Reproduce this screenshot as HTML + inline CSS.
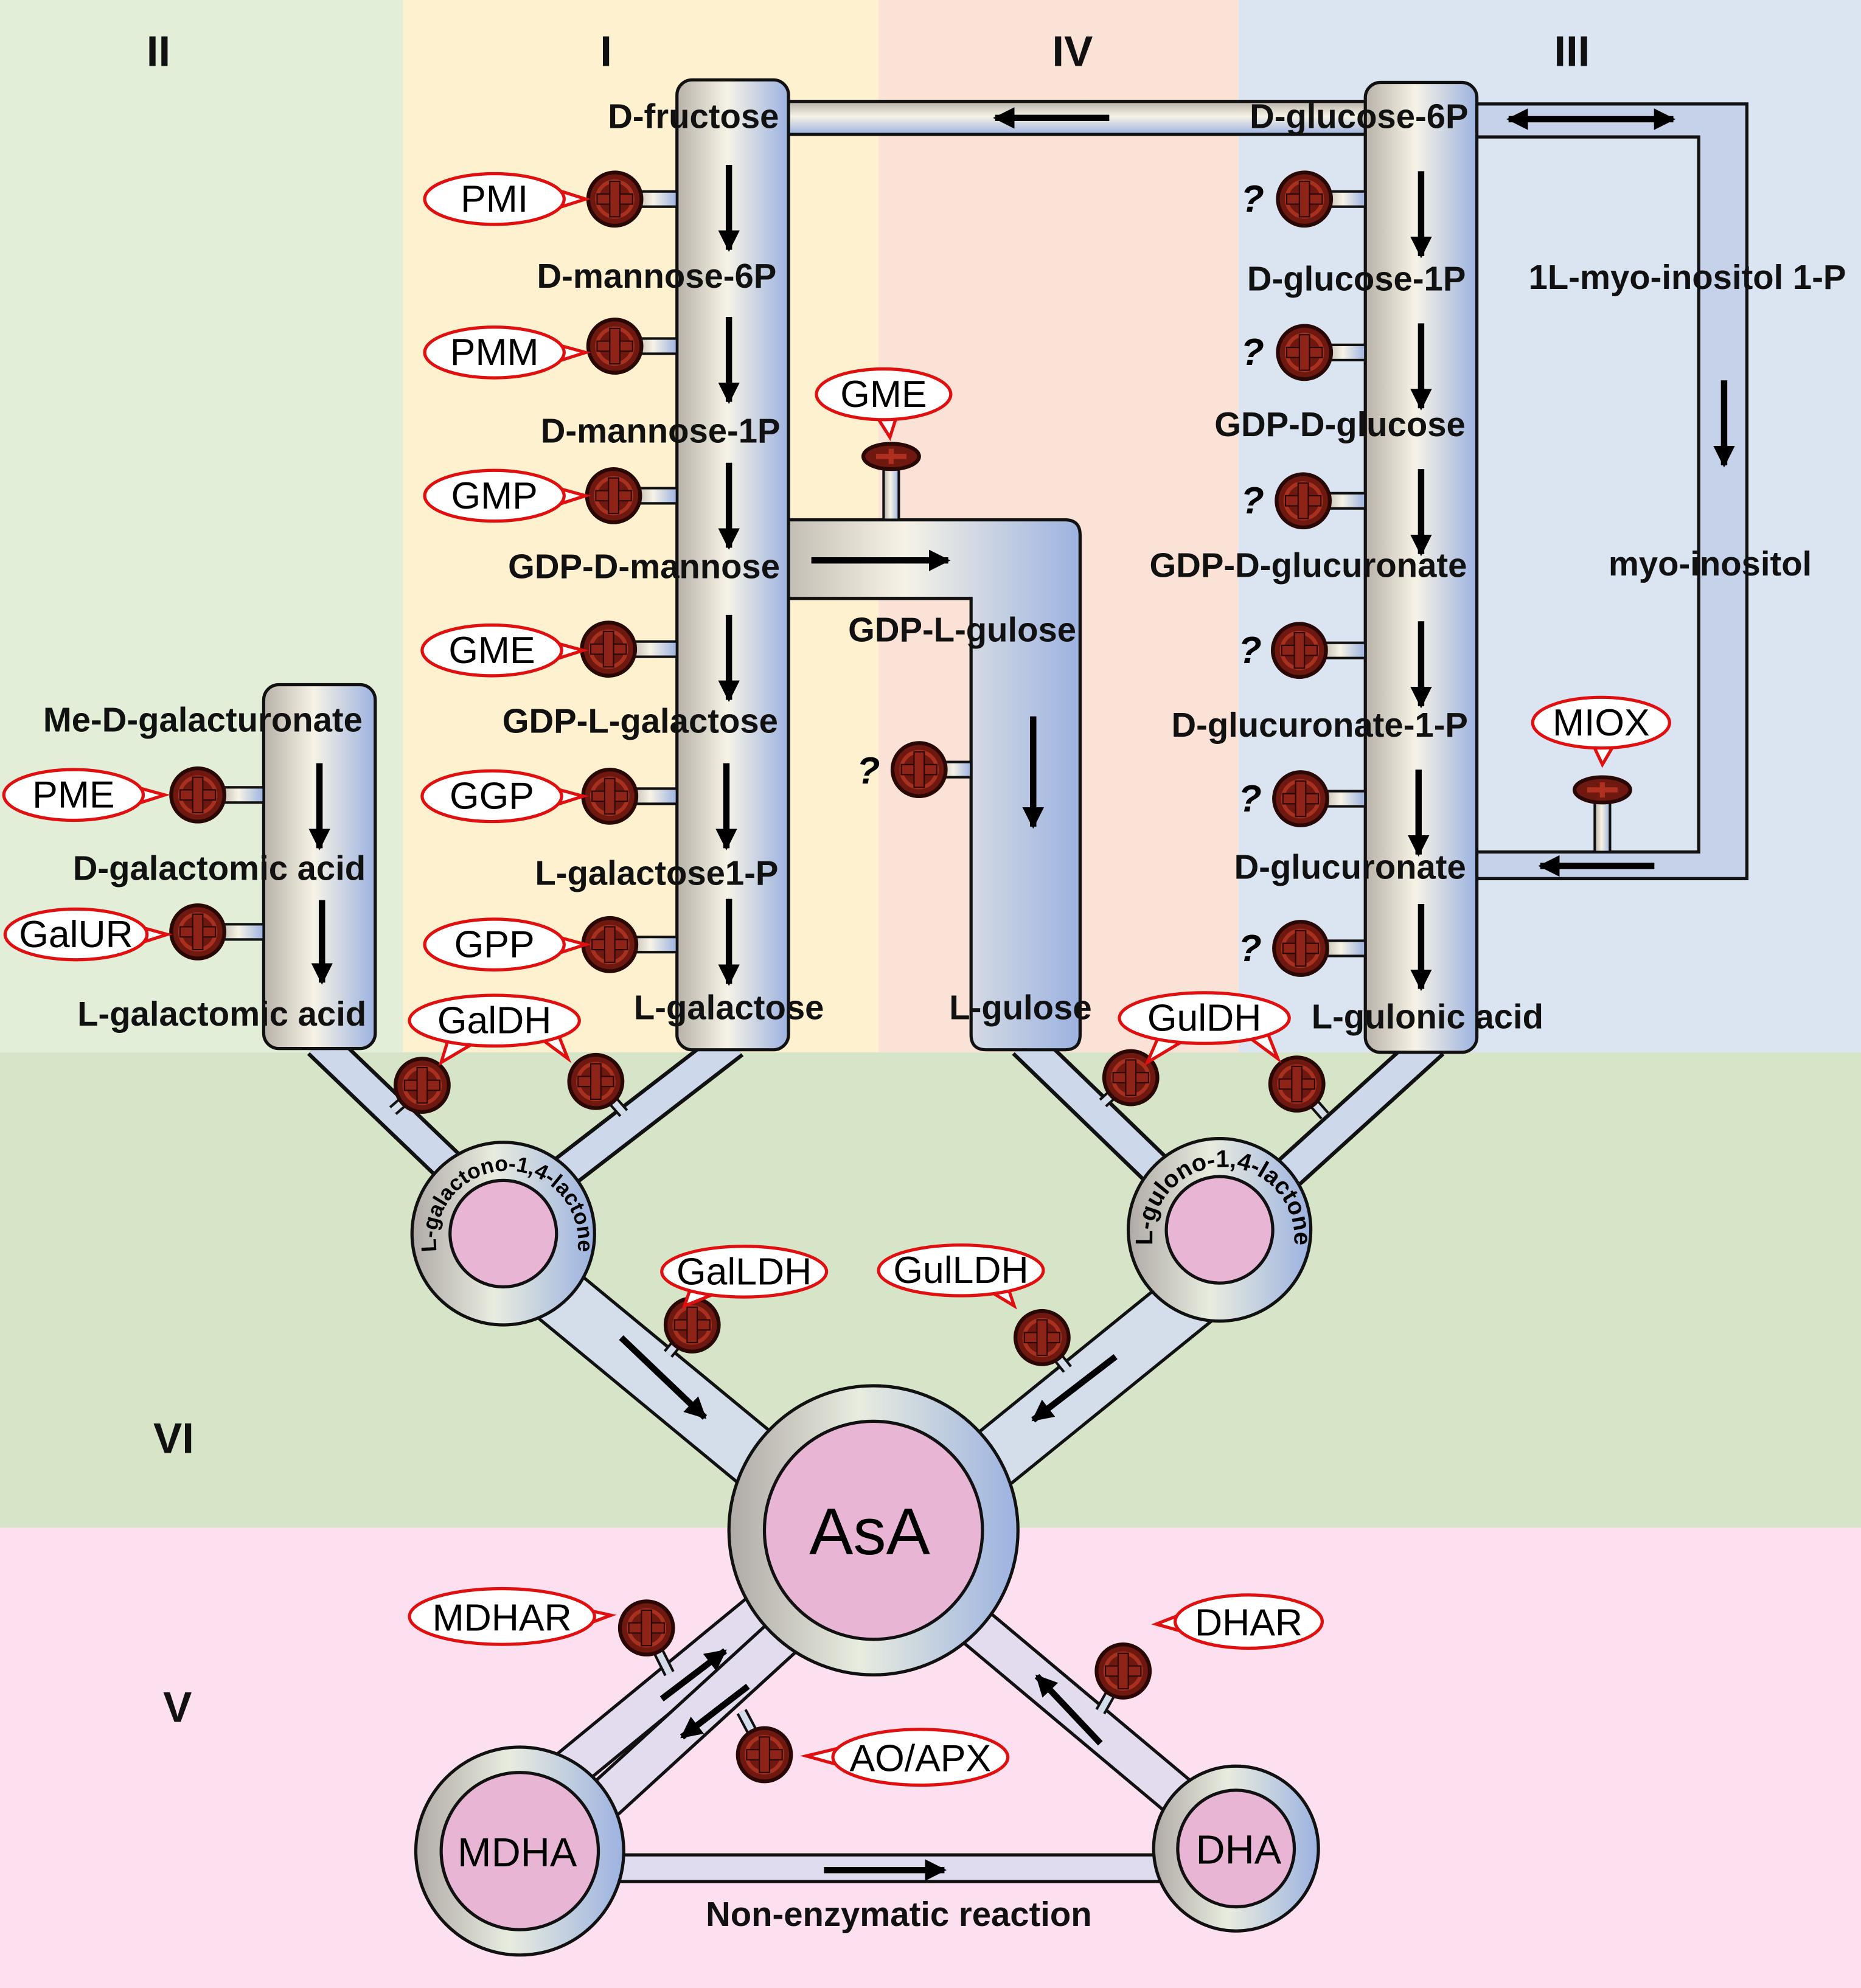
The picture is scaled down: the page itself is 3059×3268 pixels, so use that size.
<!DOCTYPE html>
<html><head><meta charset="utf-8"><style>
html,body{margin:0;padding:0;background:#fff}
svg{display:block}
text{font-family:"Liberation Sans",sans-serif}
.b{font-weight:bold;font-size:27px;text-anchor:middle;fill:#111}
.s{font-weight:bold;font-size:34px;text-anchor:middle;fill:#111}
.c{font-size:30px;text-anchor:middle;fill:#000}
.q{font-weight:bold;font-style:italic;font-size:30px;text-anchor:middle}
.pipe{fill:url(#tg);stroke:#111;stroke-width:2.5}
</style></head><body>
<svg width="3059" height="3268" viewBox="0 0 1468 1568" preserveAspectRatio="none" xmlns="http://www.w3.org/2000/svg">
<defs>
<linearGradient id="tg" x1="0" y1="0" x2="1" y2="0">
<stop offset="0" stop-color="#b8b2a8"/><stop offset="0.45" stop-color="#f6f3e6"/><stop offset="1" stop-color="#9cb2e0"/></linearGradient>
<linearGradient id="tgv" x1="0" y1="0" x2="0" y2="1">
<stop offset="0" stop-color="#b8b2a8"/><stop offset="0.45" stop-color="#f6f3e6"/><stop offset="1" stop-color="#9cb2e0"/></linearGradient>
<linearGradient id="rg" x1="0" y1="0" x2="1" y2="0">
<stop offset="0" stop-color="#b0aaa6"/><stop offset="0.45" stop-color="#e8ecdf"/><stop offset="1" stop-color="#9cb2e0"/></linearGradient>
<marker id="ah" viewBox="0 0 10 10" refX="9" refY="5" markerWidth="3.4" markerHeight="3.4" orient="auto-start-reverse"><path d="M0,0L10,5L0,10z" fill="#000"/></marker>
<g id="v"><circle r="21" fill="#6e1810" stroke="#2a0805" stroke-width="3"/><circle r="14" fill="none" stroke="#a8301e" stroke-width="3"/><rect x="-14" y="-4" width="28" height="8" fill="#8e2418" stroke="#2a0805" stroke-width="1"/><rect x="-4" y="-14" width="8" height="28" fill="#8e2418" stroke="#2a0805" stroke-width="1"/></g>
<g id="vt"><ellipse rx="22" ry="10" fill="#6e1810" stroke="#2a0805" stroke-width="3"/><path d="M-12,0H12M0,-6V6" stroke="#b03020" stroke-width="4"/></g>
</defs>
<rect x="0" y="0" width="318" height="830" fill="#e3eed9"/>
<rect x="318" y="0" width="375" height="830" fill="#fdf1cf"/>
<rect x="693" y="0" width="284" height="830" fill="#fae3d6"/>
<rect x="977" y="0" width="491" height="830" fill="#dbe4f1"/>
<rect x="0" y="830" width="1468" height="375" fill="#d6e5c8"/>
<rect x="0" y="1205" width="1468" height="363" fill="#fde0f0"/>
<text class="s" x="125" y="52">II</text><text class="s" x="478" y="52">I</text><text class="s" x="846" y="52">IV</text><text class="s" x="1240" y="52">III</text>
<text class="s" x="137" y="1146">VI</text><text class="s" x="140" y="1358">V</text>
<g stroke-linecap="butt">
<line x1="252" y1="822" x2="375" y2="940" stroke="#111" stroke-width="28"/><line x1="252" y1="822" x2="375" y2="940" stroke="#cdd8ea" stroke-width="22"/>
<line x1="578" y1="822" x2="425" y2="940" stroke="#111" stroke-width="28"/><line x1="578" y1="822" x2="425" y2="940" stroke="#cdd8ea" stroke-width="22"/>
<line x1="808" y1="822" x2="930" y2="940" stroke="#111" stroke-width="28"/><line x1="808" y1="822" x2="930" y2="940" stroke="#cdd8ea" stroke-width="22"/>
<line x1="1130" y1="822" x2="1000" y2="940" stroke="#111" stroke-width="28"/><line x1="1130" y1="822" x2="1000" y2="940" stroke="#cdd8ea" stroke-width="22"/>
<line x1="420" y1="1005" x2="620" y2="1170" stroke="#111" stroke-width="50"/><line x1="420" y1="1005" x2="620" y2="1170" stroke="#d4ddea" stroke-width="45"/>
<line x1="945" y1="1020" x2="760" y2="1170" stroke="#111" stroke-width="50"/><line x1="945" y1="1020" x2="760" y2="1170" stroke="#d4ddea" stroke-width="45"/>
<line x1="612" y1="1262" x2="432" y2="1410" stroke="#111" stroke-width="34"/><line x1="612" y1="1262" x2="432" y2="1410" stroke="#e3dcee" stroke-width="29"/>
<line x1="635" y1="1275" x2="460" y2="1435" stroke="#111" stroke-width="34"/><line x1="635" y1="1275" x2="460" y2="1435" stroke="#e3dcee" stroke-width="29"/>
<line x1="760" y1="1275" x2="945" y2="1430" stroke="#111" stroke-width="34"/><line x1="760" y1="1275" x2="945" y2="1430" stroke="#e3dcee" stroke-width="29"/>
<rect x="480" y="1463" width="450" height="21" fill="#dfdcef" stroke="#111" stroke-width="2.5"/>
</g>
<g stroke="#111" stroke-width="9"><line x1="333" y1="856" x2="310" y2="876"/><line x1="470" y1="853" x2="492" y2="878"/><line x1="892" y1="850" x2="870" y2="870"/><line x1="1023" y1="855" x2="1045" y2="880"/>
<line x1="546" y1="1045" x2="527" y2="1068"/><line x1="822" y1="1055" x2="842" y2="1080"/><line x1="510" y1="1284" x2="528" y2="1320"/><line x1="603" y1="1384" x2="585" y2="1350"/><line x1="886" y1="1318" x2="868" y2="1350"/></g>
<g stroke="#d4ddea" stroke-width="5"><line x1="333" y1="856" x2="310" y2="876"/><line x1="470" y1="853" x2="492" y2="878"/><line x1="892" y1="850" x2="870" y2="870"/><line x1="1023" y1="855" x2="1045" y2="880"/>
<line x1="546" y1="1045" x2="527" y2="1068"/><line x1="822" y1="1055" x2="842" y2="1080"/><line x1="510" y1="1284" x2="528" y2="1320"/><line x1="603" y1="1384" x2="585" y2="1350"/><line x1="886" y1="1318" x2="868" y2="1350"/></g>
<rect class="pipe" x="600" y="80" width="500" height="26" style="fill:url(#tgv)"/>
<path class="pipe" d="M1150,82H1378V693H1150V672H1340V108H1150Z" style="fill:#c6d2ea"/>
<path class="pipe" d="M600,410H840Q852,410 852,422V816Q852,828 840,828H778Q766,828 766,816V472H600Z"/>
<rect class="pipe" x="534" y="63" width="88" height="765" rx="12"/>
<rect class="pipe" x="1077" y="65" width="88" height="765" rx="12"/>
<rect class="pipe" x="208" y="540" width="88" height="287" rx="12"/>
<g fill="url(#tg)" stroke="#111" stroke-width="2">
<rect x="500" y="151" width="34" height="12"/><rect x="500" y="267" width="34" height="12"/><rect x="500" y="385" width="34" height="12"/><rect x="496" y="506" width="38" height="12"/><rect x="496" y="622" width="38" height="12"/><rect x="496" y="739" width="38" height="12"/>
<rect x="1045" y="151" width="32" height="12"/><rect x="1045" y="272" width="32" height="12"/><rect x="1044" y="389" width="33" height="12"/><rect x="1041" y="507" width="36" height="12"/><rect x="1042" y="624" width="35" height="12"/><rect x="1042" y="742" width="35" height="12"/>
<rect x="172" y="621" width="36" height="12"/><rect x="172" y="729" width="36" height="12"/><rect x="740" y="601" width="26" height="12"/>
<rect x="697" y="365" width="12" height="45"/><rect x="1258" y="628" width="12" height="44"/>
</g>
<use href="#v" x="485" y="157"/><use href="#v" x="485" y="273"/><use href="#v" x="484" y="391"/><use href="#v" x="480" y="512"/><use href="#v" x="481" y="628"/><use href="#v" x="481" y="745"/>
<use href="#v" x="1029" y="157"/><use href="#v" x="1029" y="278"/><use href="#v" x="1028" y="395"/><use href="#v" x="1025" y="513"/><use href="#v" x="1026" y="630"/><use href="#v" x="1026" y="748"/>
<use href="#v" x="156" y="627"/><use href="#v" x="156" y="735"/><use href="#v" x="725" y="607"/>
<use href="#vt" x="703" y="360"/><use href="#vt" x="1264" y="623"/>
<use href="#v" x="333" y="856"/><use href="#v" x="470" y="853"/><use href="#v" x="892" y="850"/><use href="#v" x="1023" y="855"/>
<use href="#v" x="546" y="1045"/><use href="#v" x="822" y="1055"/><use href="#v" x="510" y="1284"/><use href="#v" x="603" y="1384"/><use href="#v" x="886" y="1318"/>
<g class="q"><text x="988" y="167">?</text><text x="988" y="288">?</text><text x="988" y="405">?</text><text x="986" y="523">?</text><text x="986" y="640">?</text><text x="986" y="758">?</text><text x="685" y="618">?</text></g>
<g stroke="#000" stroke-width="5" marker-end="url(#ah)">
<line x1="575" y1="130" x2="575" y2="197"/><line x1="575" y1="250" x2="575" y2="317"/><line x1="575" y1="365" x2="575" y2="432"/><line x1="575" y1="485" x2="575" y2="552"/><line x1="573" y1="602" x2="573" y2="669"/><line x1="575" y1="709" x2="575" y2="776"/>
<line x1="1121" y1="135" x2="1121" y2="202"/><line x1="1121" y1="255" x2="1121" y2="322"/><line x1="1121" y1="370" x2="1121" y2="437"/><line x1="1121" y1="490" x2="1121" y2="557"/><line x1="1119" y1="607" x2="1119" y2="674"/><line x1="1121" y1="713" x2="1121" y2="780"/>
<line x1="252" y1="602" x2="252" y2="669"/><line x1="254" y1="710" x2="254" y2="775"/>
<line x1="875" y1="93" x2="785" y2="93"/><line x1="640" y1="442" x2="748" y2="442"/><line x1="815" y1="565" x2="815" y2="652"/>
<line x1="1360" y1="300" x2="1360" y2="367"/><line x1="1305" y1="683" x2="1215" y2="683"/>
<line x1="490" y1="1055" x2="556" y2="1118"/><line x1="880" y1="1070" x2="815" y2="1120"/>
<line x1="522" y1="1340" x2="572" y2="1302"/><line x1="590" y1="1330" x2="538" y2="1370"/><line x1="868" y1="1375" x2="818" y2="1322"/><line x1="650" y1="1475" x2="745" y2="1475"/>
</g>
<line x1="1190" y1="94" x2="1320" y2="94" stroke="#000" stroke-width="5" marker-end="url(#ah)" marker-start="url(#ah)"/>
<circle cx="397" cy="973" r="72" fill="url(#rg)" stroke="#111" stroke-width="2.5"/><circle cx="397" cy="973" r="42" fill="#e8b5d5" stroke="#111" stroke-width="2.5"/>
<circle cx="962" cy="970" r="72" fill="url(#rg)" stroke="#111" stroke-width="2.5"/><circle cx="962" cy="970" r="42" fill="#e8b5d5" stroke="#111" stroke-width="2.5"/>
<circle cx="689" cy="1207" r="114" fill="url(#rg)" stroke="#111" stroke-width="2.5"/><circle cx="689" cy="1207" r="86" fill="#e8b5d5" stroke="#111" stroke-width="2.5"/>
<circle cx="410" cy="1460" r="82" fill="url(#rg)" stroke="#111" stroke-width="2.5"/><circle cx="410" cy="1460" r="62" fill="#e8b5d5" stroke="#111" stroke-width="2.5"/>
<circle cx="975" cy="1458" r="65" fill="url(#rg)" stroke="#111" stroke-width="2.5"/><circle cx="975" cy="1458" r="46" fill="#e8b5d5" stroke="#111" stroke-width="2.5"/>
<path id="arc1" d="M345,990A56,56 0 1,1 455,990" fill="none"/>
<path id="arc2" d="M910,987A56,56 0 1,1 1020,987" fill="none"/>
<text style="font-weight:bold;font-size:17px"><textPath href="#arc1" startOffset="50%" text-anchor="middle">L-galactono-1,4-lactone</textPath></text>
<text style="font-weight:bold;font-size:19px"><textPath href="#arc2" startOffset="50%" text-anchor="middle">L-gulono-1,4-lactone</textPath></text>
<text x="686" y="1226" style="font-size:52px;text-anchor:middle">AsA</text>
<text x="408" y="1472" style="font-size:32px;text-anchor:middle">MDHA</text>
<text x="977" y="1470" style="font-size:32px;text-anchor:middle">DHA</text>
<g class="b">
<text x="547" y="101">D-fructose</text><text x="518" y="227">D-mannose-6P</text><text x="521" y="349">D-mannose-1P</text><text x="508" y="456">GDP-D-mannose</text><text x="505" y="578">GDP-L-galactose</text><text x="518" y="698">L-galactose1-P</text><text x="575" y="804">L-galactose</text>
<text x="1072" y="101">D-glucose-6P</text><text x="1070" y="229">D-glucose-1P</text><text x="1057" y="344">GDP-D-glucose</text><text x="1032" y="455">GDP-D-glucuronate</text><text x="1041" y="581">D-glucuronate-1-P</text><text x="1065" y="693">D-glucuronate</text><text x="1126" y="811">L-gulonic acid</text>
<text x="1331" y="228">1L-myo-inositol 1-P</text><text x="1349" y="454">myo-inositol</text><text x="759" y="506">GDP-L-gulose</text><text x="805" y="804">L-gulose</text>
<text x="160" y="577">Me-D-galacturonate</text><text x="173" y="694">D-galactomic acid</text><text x="175" y="809">L-galactomic acid</text>
<text x="709" y="1519">Non-enzymatic reaction</text>
</g>
<g fill="#fff" stroke="#e01010" stroke-width="2.5">
<path d="M440,150L462,157L440,164Z"/><ellipse cx="390" cy="157" rx="55" ry="20"/>
<path d="M440,272L462,278L440,285Z"/><ellipse cx="390" cy="278" rx="55" ry="20"/>
<path d="M440,385L462,391L440,398Z"/><ellipse cx="390" cy="391" rx="55" ry="20"/>
<path d="M438,507L460,513L438,520Z"/><ellipse cx="388" cy="513" rx="55" ry="20"/>
<path d="M438,622L460,628L438,635Z"/><ellipse cx="388" cy="628" rx="55" ry="20"/>
<path d="M440,739L462,745L440,752Z"/><ellipse cx="390" cy="745" rx="55" ry="20"/>
<path d="M108,621L130,627L108,634Z"/><ellipse cx="58" cy="627" rx="55" ry="20"/>
<path d="M110,731L132,737L110,744Z"/><ellipse cx="60" cy="737" rx="56" ry="20"/>
<path d="M690,326L702,345L708,326Z"/><ellipse cx="697" cy="311" rx="53" ry="20"/>
<path d="M1256,586L1264,603L1274,586Z"/><ellipse cx="1263" cy="570" rx="54" ry="20"/>
<path d="M355,815L348,838L375,822Z"/><path d="M425,818L448,835L440,815Z"/><ellipse cx="390" cy="805" rx="67" ry="20"/>
<path d="M915,815L905,838L935,820Z"/><path d="M985,818L1008,835L1000,815Z"/><ellipse cx="950" cy="803" rx="67" ry="20"/>
<path d="M545,1015L540,1030L565,1020Z"/><ellipse cx="587" cy="1003" rx="65" ry="20"/>
<path d="M780,1018L800,1030L795,1015Z"/><ellipse cx="758" cy="1002" rx="65" ry="20"/>
<path d="M455,1268L482,1274L455,1284Z"/><ellipse cx="396" cy="1275" rx="73" ry="22"/>
<path d="M665,1378L636,1385L665,1393Z"/><ellipse cx="726" cy="1386" rx="69" ry="22"/>
<path d="M935,1272L912,1281L937,1288Z"/><ellipse cx="985" cy="1279" rx="58" ry="21"/>
</g>
<g class="c">
<text x="390" y="167">PMI</text><text x="390" y="288">PMM</text><text x="390" y="401">GMP</text><text x="388" y="523">GME</text><text x="388" y="638">GGP</text><text x="390" y="755">GPP</text>
<text x="58" y="637">PME</text><text x="60" y="747">GalUR</text><text x="697" y="321">GME</text><text x="1263" y="580">MIOX</text>
<text x="390" y="815">GalDH</text><text x="950" y="813">GulDH</text><text x="587" y="1013">GalLDH</text><text x="758" y="1012">GulLDH</text>
<text x="396" y="1286">MDHAR</text><text x="726" y="1397">AO/APX</text><text x="985" y="1290">DHAR</text>
</g>
</svg>
</body></html>
